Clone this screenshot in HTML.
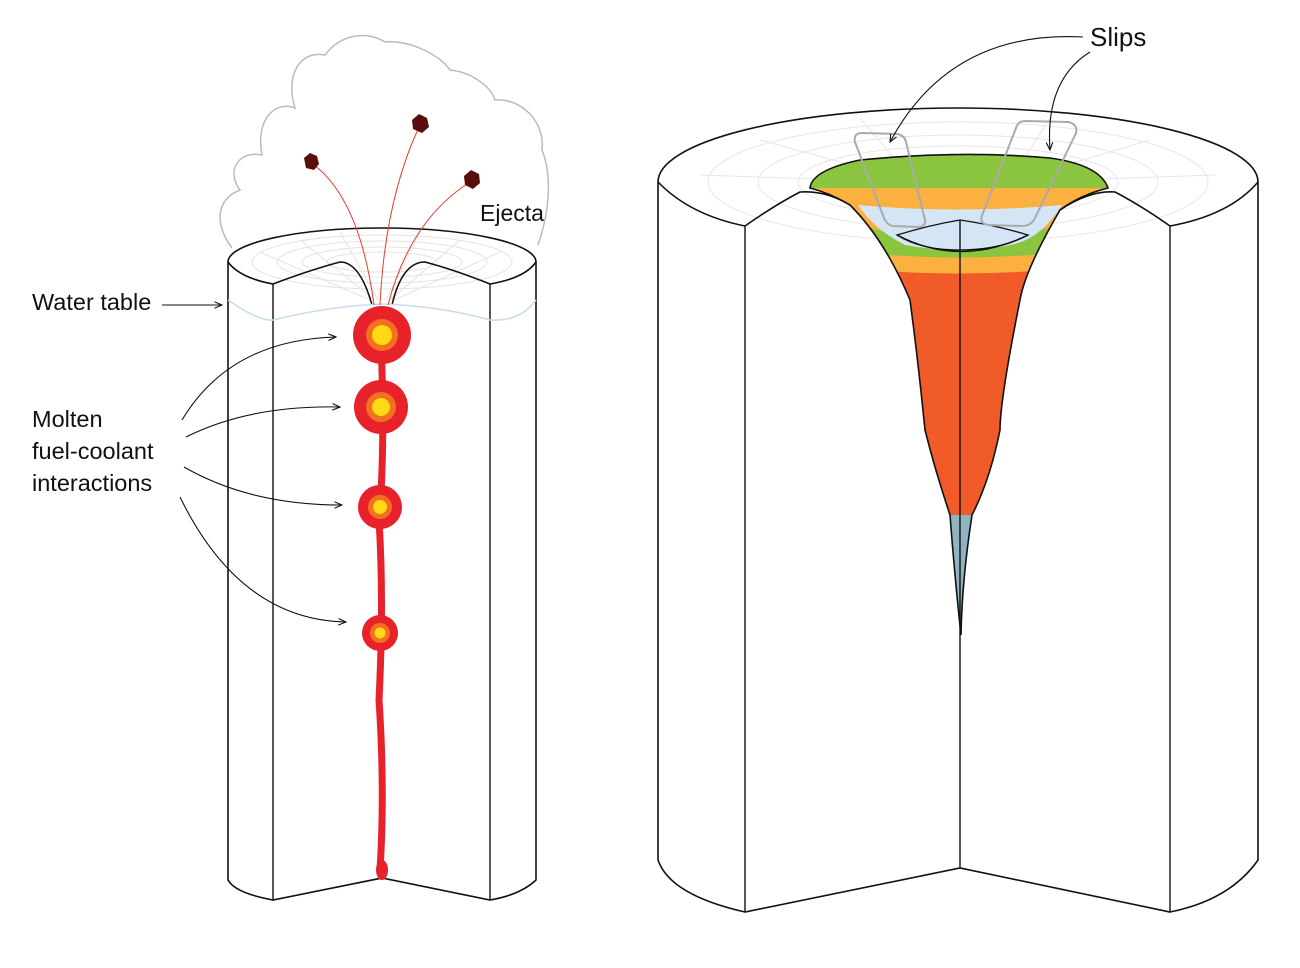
<!DOCTYPE html>
<html><head><meta charset="utf-8"><style>html,body{margin:0;padding:0;background:#fff}svg{display:block}text{font-family:"Liberation Sans",sans-serif;fill:#111}</style></head><body>
<svg width="1300" height="968" viewBox="0 0 1300 968" xmlns="http://www.w3.org/2000/svg">
<defs><marker id="ah" markerWidth="8" markerHeight="8" refX="7" refY="4" orient="auto"><path d="M0,1 L7,4 L0,7" fill="none" stroke="#111" stroke-width="1"/></marker>
<clipPath id="fc"><path d="M810,188 Q812,170 860,160 Q960,150 1050,158 Q1100,165 1108,188 Q1080,195 1060,210 Q1025,270 1020,300 Q1000,400 1000,430 Q990,480 972,515 Q962,580 961,635 Q955,580 950,515 Q935,470 925,430 Q918,360 910,300 Q885,240 850,205 Q830,193 810,188 Z"/></clipPath></defs>
<!-- cloud -->
<path d="M232,248 C215,225 215,200 240,190 C225,170 240,150 262,155 C255,120 275,100 295,108 C285,75 300,50 325,55 C340,35 365,30 385,42 C410,40 440,55 450,70 C470,72 490,85 495,100 C520,98 545,120 542,150 C552,175 550,210 538,245" fill="none" stroke="#bbb" stroke-width="1.5"/>
<!-- LEFT cylinder -->
<path d="M228,262 A154,34 0 0 1 536,262 L536,880 Q520,895 490,900 L382,878 L273,900 Q235,893 228,880 Z" fill="#fff" stroke="#111" stroke-width="1.6"/>
<g fill="none" stroke="#e3e3e3" stroke-width="1">
<ellipse cx="382" cy="262" rx="130" ry="27"/><ellipse cx="382" cy="262" rx="105" ry="21"/><ellipse cx="382" cy="262" rx="80" ry="15"/><ellipse cx="382" cy="262" rx="55" ry="10"/>
<path d="M260,252 L370,300 M300,240 L375,300 M340,232 L378,300 M420,232 L386,300 M460,240 L390,300 M500,252 L394,300"/></g>
<path d="M228,262 Q240,278 273,284 Q310,270 340,262 Q360,262 372,305 M392,305 Q402,262 425,262 Q455,270 490,284 Q525,278 536,262" fill="none" stroke="#111" stroke-width="1.6"/>
<path d="M273,284 L273,900 M490,284 L490,900" stroke="#111" stroke-width="1.4"/>
<path d="M228,300 Q260,322 273,320 Q330,306 382,304 Q440,306 490,320 Q520,322 536,300" fill="none" stroke="#c8dcef" stroke-width="1.5"/>
<!-- ejecta -->
<g fill="none" stroke="#e83a2a" stroke-width="1"><path d="M374,305 Q360,200 314,165"/><path d="M380,305 Q385,200 419,127"/><path d="M388,305 Q410,220 470,182"/></g>
<g fill="#5a0e0c"><path d="M304,158 L310,153 L317,156 L319,164 L314,170 L306,168 Z"/><path d="M412,120 L419,114 L427,118 L429,127 L422,133 L413,129 Z"/><path d="M464,176 L471,170 L479,174 L480,183 L473,189 L465,185 Z"/></g>
<!-- vein -->
<path d="M380,320 Q386,440 379,520 Q384,600 379,700 Q385,790 380,870" fill="none" stroke="#e8222a" stroke-width="7"/>
<ellipse cx="382" cy="870" rx="6" ry="10" fill="#e8222a"/>
<g><circle cx="382" cy="335" r="29" fill="#e8222a"/><circle cx="382" cy="335" r="16" fill="#f36f21"/><circle cx="382" cy="335" r="10" fill="#ffd916"/>
<circle cx="381" cy="407" r="27" fill="#e8222a"/><circle cx="381" cy="407" r="15" fill="#f36f21"/><circle cx="381" cy="407" r="9" fill="#ffd916"/>
<circle cx="380" cy="507" r="22" fill="#e8222a"/><circle cx="380" cy="507" r="12" fill="#f36f21"/><circle cx="380" cy="507" r="7" fill="#ffd916"/>
<circle cx="380" cy="633" r="18" fill="#e8222a"/><circle cx="380" cy="633" r="10" fill="#f36f21"/><circle cx="380" cy="633" r="5.5" fill="#ffd916"/></g>
<!-- left labels -->
<text x="32" y="310" font-size="23.5">Water table</text>
<text x="480" y="221" font-size="23">Ejecta</text>
<text x="32" y="427" font-size="23.5">Molten</text>
<text x="32" y="459" font-size="23.5">fuel-coolant</text>
<text x="32" y="491" font-size="23.5">interactions</text>
<g fill="none" stroke="#111" stroke-width="1.1" marker-end="url(#ah)">
<path d="M162,305 L222,305"/>
<path d="M182,420 Q230,340 336,337"/><path d="M186,437 Q250,405 340,407"/><path d="M184,467 Q250,505 342,505"/><path d="M180,497 Q240,620 346,622"/></g>
<!-- RIGHT cylinder -->
<path d="M658,182 A300,74 0 0 1 1258,182 L1258,860 Q1230,900 1170,912 L960,868 L745,912 Q670,895 658,860 Z" fill="#fff" stroke="#111" stroke-width="1.6"/>
<g fill="none" stroke="#e6e6e6" stroke-width="1">
<ellipse cx="958" cy="182" rx="250" ry="60"/><ellipse cx="958" cy="182" rx="200" ry="47"/><ellipse cx="958" cy="182" rx="160" ry="36"/>
<path d="M700,175 L850,180 M760,140 L870,170 M860,118 L900,165 M1050,118 L1020,165 M1150,140 L1050,170 M1215,175 L1070,180"/></g>
<!-- funnel -->
<g clip-path="url(#fc)">
<rect x="800" y="140" width="320" height="520" fill="#f15a29"/>
<path d="M800,140 H1120 V262 Q960,285 800,262 Z" fill="#fbb040"/>
<path d="M800,140 H1120 V245 Q960,270 800,245 Z" fill="#8bc43f"/>
<path d="M800,188 H1120 V200 Q960,212 800,200 Z" fill="#fbb040"/>
<path d="M800,200 Q960,212 1120,200 V205 Q1060,225 1035,232 Q960,260 885,232 Q860,225 800,205 Z" fill="#fbb040"/>
<path d="M858,205 Q960,214 1062,205 Q1040,240 1010,245 Q960,255 905,245 Q875,230 858,205 Z" fill="#d4e6f5"/>
<path d="M800,515 H1120 V660 H800 Z" fill="#8fb3c0"/>
</g>
<path d="M897,235 Q930,225 960,220 Q995,225 1028,235 Q1000,250 960,250 Q920,250 897,235 Z" fill="#d4e6f5" stroke="#111" stroke-width="1.3"/>
<path d="M897,235 Q960,268 1028,235" fill="none" stroke="#111" stroke-width="1.3"/>
<path d="M810,188 Q812,170 860,160 Q960,150 1050,158 Q1100,165 1108,188 Q1080,195 1060,210 Q1025,270 1020,300 Q1000,400 1000,430 Q990,480 972,515 Q962,580 961,635 Q955,580 950,515 Q935,470 925,430 Q918,360 910,300 Q885,240 850,205 Q830,193 810,188 Z" fill="none" stroke="#111" stroke-width="1.6"/>
<!-- slips outlines -->
<g fill="none" stroke="#aaa" stroke-width="2" stroke-linejoin="round"><path d="M862,133 L898,134 Q905,136 906,142 L925,220 Q926,227 918,227 L893,226 Q887,225 884,218 L855,142 Q853,133 862,133 Z"/><path d="M1025,121 L1068,122 Q1078,124 1076,133 L1035,218 Q1031,226 1022,226 L988,225 Q978,223 983,213 L1016,128 Q1018,121 1025,121 Z"/></g>
<!-- cut edges -->
<path d="M658,182 Q690,215 745,226 Q775,205 800,192 Q825,190 850,205 M1060,210 Q1090,190 1115,192 Q1140,205 1170,226 Q1230,215 1258,182" fill="none" stroke="#111" stroke-width="1.6"/>
<path d="M745,226 L745,912 M1170,226 L1170,912 M960,220 L960,868" stroke="#111" stroke-width="1.4"/>
<text x="1090" y="46" font-size="26">Slips</text>
<g fill="none" stroke="#111" stroke-width="1.1" marker-end="url(#ah)"><path d="M1083,37 Q950,30 890,142"/><path d="M1090,52 Q1045,80 1050,150"/></g>
</svg>
</body></html>
